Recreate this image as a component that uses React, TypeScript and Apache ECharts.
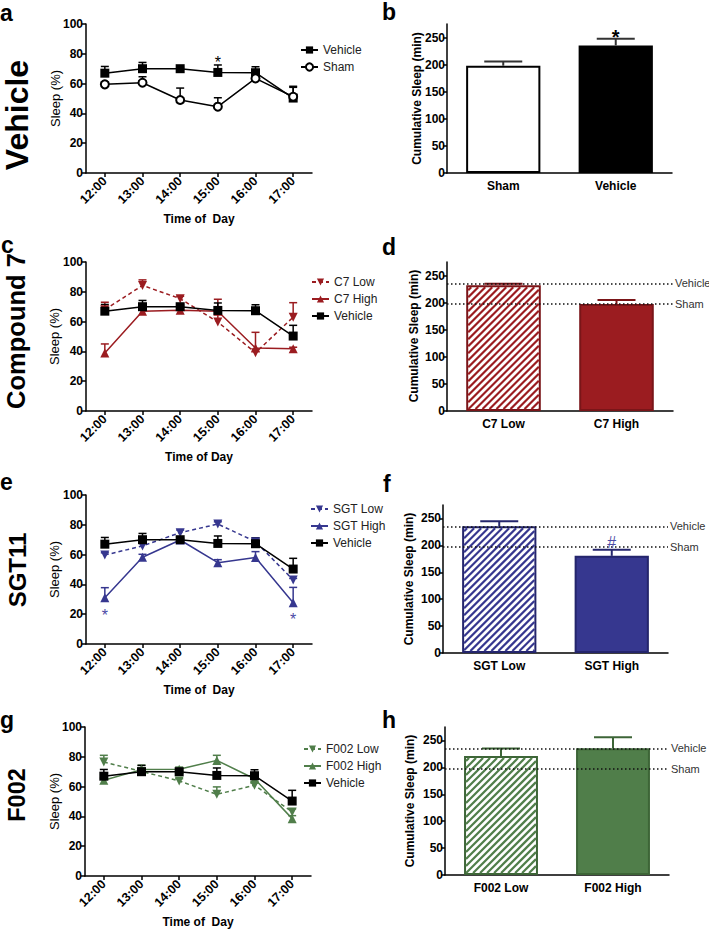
import React, { useEffect, useRef } from 'react';
import * as echarts from 'echarts';

// ---------- data ----------
const hours = ['12:00', '13:00', '14:00', '15:00', '16:00', '17:00'];
const sleepTicks = [0, 20, 40, 60, 80, 100];
const cumTicks = [0, 50, 100, 150, 200, 250];

const vehicleSleep = [67, 70, 70, 67.5, 67.3, 50.3];
const vehicleSem = [4.5, 4.2, 1, 5, 4, 7.2];
const shamSleep = [59.5, 60.6, 49, 44.5, 63.5, 51.2];
const shamSem = [1.5, 4, 8, 6, 1.5, 7];

const c7LowSleep = [68, 84.3, 75.4, 59.7, 39.1, 63];
const c7LowSem = [5, 3.7, 1.6, 8, 1, 9.7];
const c7HighSleep = [39, 67, 67.6, 67, 42.3, 41.8];
const c7HighSem = [6, 1, 1, 8, 10.5, 1];

const sgtLowSleep = [59.7, 65.8, 74.7, 80.5, 68.7, 43];
const sgtLowSem = [1.5, 3, 1.8, 1.5, 2, 1];
const sgtHighSleep = [31.1, 58.2, 69.8, 54.6, 58, 27.7];
const sgtHighSem = [6.7, 2, 1, 2, 4, 10.3];

const f002LowSleep = [76.5, 70.2, 63.8, 54.8, 60.9, 43];
const f002LowSem = [4.5, 2, 1.5, 5, 1.5, 2];
const f002HighSleep = [64.2, 71.4, 71.6, 77.6, 65.3, 38.5];
const f002HighSem = [1.5, 3, 1.5, 3.4, 1.5, 2];

const catsB = ['Sham', 'Vehicle'];
const cumB = [198, 235.5];
const cumBSem = [8, 12.5];
const catsD = ['C7 Low', 'C7 High'];
const cumD = [232, 197.5];
const cumDSem = [3, 7.5];
const catsF = ['SGT Low', 'SGT High'];
const cumF = [235.5, 180.5];
const cumFSem = [9.5, 11.5];
const catsH = ['F002 Low', 'F002 High'];
const cumH = [221, 235.5];
const cumHSem = [14, 20.5];

const refNames = ['Vehicle', 'Sham'];
const refValues = [235.5, 197.5];

// ---------- style ----------
const FONT = 'Liberation Sans, Arial, Helvetica, sans-serif';
const RED = '#9B1C20';
const RED_D = '#7A1518';
const BLUE = '#36378F';
const BLUE_D = '#24256C';
const GREEN = '#507E4A';
const GREEN_D = '#3D6537';
const STAR_BLUE = '#4B4BA6';

const grids = [
  { left: 86, top: 24, width: 226, height: 149 },
  { left: 447, top: 24, width: 225, height: 149 },
  { left: 86, top: 262, width: 226, height: 149 },
  { left: 447, top: 262, width: 226, height: 149 },
  { left: 86, top: 495, width: 226, height: 149 },
  { left: 443, top: 505, width: 225, height: 148 },
  { left: 85, top: 727, width: 226, height: 149 },
  { left: 445, top: 727, width: 224, height: 148 },
];

const axisLine = { show: true, lineStyle: { color: '#000', width: 1.5 } };

function lineX(gi: number, name: string) {
  return {
    type: 'category', gridIndex: gi, data: hours, boundaryGap: true,
    axisLine, axisTick: { show: true, alignWithLabel: true, length: 4, lineStyle: { color: '#000', width: 1.5 } },
    axisLabel: { rotate: 45, fontWeight: 'bold', fontSize: 12.5, color: '#000', margin: 6, fontFamily: FONT },
    name, nameLocation: 'middle', nameGap: 40,
    nameTextStyle: { fontWeight: 'bold', fontSize: 12, color: '#000', fontFamily: FONT },
    splitLine: { show: false },
  };
}
function lineY(gi: number) {
  return {
    type: 'value', gridIndex: gi, min: 0, max: 100, interval: 20,
    axisLine, axisTick: { show: true, length: 4, customValues: sleepTicks, lineStyle: { color: '#000', width: 1.5 } },
    axisLabel: { fontWeight: 'bold', fontSize: 12, color: '#000', margin: 3, customValues: sleepTicks, fontFamily: FONT },
    splitLine: { show: false },
  };
}
function barX(gi: number, cats: string[]) {
  return {
    type: 'category', gridIndex: gi, data: cats,
    axisLine, axisTick: { show: false },
    axisLabel: { fontWeight: 'bold', fontSize: 12, color: '#000', margin: 7, fontFamily: FONT },
    splitLine: { show: false },
  };
}
function barY(gi: number) {
  return {
    type: 'value', gridIndex: gi, min: 0, max: 275,
    axisLine,
    axisTick: { show: true, length: 4, customValues: cumTicks, lineStyle: { color: '#000', width: 1.5 } },
    axisLabel: { fontWeight: 'bold', fontSize: 12, color: '#000', margin: 2, customValues: cumTicks, fontFamily: FONT },
    splitLine: { show: false },
  };
}

function lineSeries(name: string, gi: number, values: number[], color: string, symbol: string, rotate: number, dashed: boolean, size: number, extra: any = {}) {
  return {
    type: 'line', name, xAxisIndex: gi, yAxisIndex: gi, data: values,
    symbol, symbolSize: size, symbolRotate: rotate,
    itemStyle: { color, borderColor: color, borderWidth: symbol === 'emptyCircle' ? 1.5 : 0 },
    lineStyle: { color, width: 1.5, type: dashed ? [4, 3] : 'solid' },
    z: 4, silent: true,
    ...extra,
  };
}

function errSeries(id: string, gi: number, values: number[], sem: number[], color: string, capW: number, lw: number, z: number) {
  return {
    type: 'custom', name: id, xAxisIndex: gi, yAxisIndex: gi, z, silent: true,
    encode: { x: 0, y: 1 },
    data: values.map((v, i) => [i, v, sem[i]]),
    renderItem: (params: any, api: any) => {
      const x = api.value(0), v = api.value(1), e = api.value(2);
      const p0 = api.coord([x, v]);
      const p1 = api.coord([x, v + e]);
      return {
        type: 'group', children: [
          { type: 'line', shape: { x1: p0[0], y1: p0[1], x2: p1[0], y2: p1[1] }, style: { stroke: color, lineWidth: lw } },
          { type: 'line', shape: { x1: p1[0] - capW / 2, y1: p1[1], x2: p1[0] + capW / 2, y2: p1[1] }, style: { stroke: color, lineWidth: lw } },
        ],
      };
    },
  };
}

function hatchSeries(id: string, gi: number, idx: number, value: number, color: string) {
  return {
    type: 'custom', name: id, xAxisIndex: gi, yAxisIndex: gi, z: 3, silent: true,
    encode: { x: 0, y: 1 },
    data: [[idx, value]],
    renderItem: (params: any, api: any) => {
      const i = api.value(0), v = api.value(1);
      const top = api.coord([i, v]);
      const bot = api.coord([i, 0]);
      const bw = api.size([1, 0])[0] * 0.66;
      const inset = 2;
      const x0 = top[0] - bw / 2 + inset, x1 = top[0] + bw / 2 - inset;
      const y0 = top[1] + inset, y1 = bot[1] - inset;
      const step = 7;
      const children: any[] = [];
      for (let c = x0 + y0 + 3; c < x1 + y1; c += step) {
        const xa = Math.max(x0, c - y1), xb = Math.min(x1, c - y0);
        if (xb > xa) children.push({ type: 'line', shape: { x1: xa, y1: c - xa, x2: xb, y2: c - xb }, style: { stroke: color, lineWidth: 2.2 } });
      }
      return { type: 'group', children };
    },
  };
}

function barSeries(id: string, gi: number, values: number[], fills: string[], borders: string[], extra: any = {}) {
  return {
    type: 'bar', name: id, xAxisIndex: gi, yAxisIndex: gi, barWidth: '66%', z: 2, silent: true,
    data: values.map((v, i) => ({ value: v, itemStyle: { color: fills[i], borderColor: borders[i], borderWidth: 2 } })),
    ...extra,
  };
}

function refSeries(id: string, gi: number) {
  return {
    type: 'line', name: id, xAxisIndex: gi, yAxisIndex: gi, data: [], z: 1, silent: true,
    markLine: {
      silent: true, symbol: 'none',
      lineStyle: { type: [1.5, 2.5], color: '#111', width: 1.5 },
      label: { show: true, position: 'end', formatter: '{b}', fontSize: 11, color: '#333', distance: 2, fontFamily: FONT },
      data: refNames.map((n, i) => ({ name: n, yAxis: refValues[i] })),
    },
  };
}

function starPoint(coord: [string, number], text: string, size: number, color: string, bold = false) {
  return {
    coord, symbol: 'rect', symbolSize: 1, itemStyle: { color: 'rgba(0,0,0,0)' },
    label: { show: true, position: 'inside', formatter: text, fontSize: size, color, fontWeight: bold ? 'bold' : 'normal', fontFamily: FONT },
  };
}

function legend(names: string[], left: number, top: number) {
  return {
    data: names, orient: 'vertical', left, top, itemWidth: 17, itemHeight: 9, itemGap: 3,
    selectedMode: false,
    textStyle: { fontSize: 12, color: '#222', lineHeight: 14, fontFamily: FONT },
  };
}

function vText(text: string, x: number, y: number, size: number, bold: boolean) {
  return {
    type: 'text', x, y, rotation: Math.PI / 2, silent: true,
    style: { text, fontSize: size, fontWeight: bold ? 'bold' : 'normal', fontFamily: FONT, fill: '#000', align: 'center', verticalAlign: 'middle' },
  };
}
function letter(text: string, x: number, y: number) {
  return {
    type: 'text', x, y, silent: true,
    style: { text, fontSize: 23, lineHeight: 22, fontWeight: 'bold', fontFamily: FONT, fill: '#000', align: 'left', verticalAlign: 'middle' },
  };
}

const option: any = {
  animation: false,
  textStyle: { fontFamily: FONT },
  grid: grids,
  xAxis: [
    lineX(0, 'Time of  Day'), barX(1, catsB),
    lineX(2, 'Time of Day'), barX(3, catsD),
    lineX(4, 'Time of  Day'), barX(5, catsF),
    lineX(6, 'Time of  Day'), barX(7, catsH),
  ],
  yAxis: [lineY(0), barY(1), lineY(2), barY(3), lineY(4), barY(5), lineY(6), barY(7)],
  legend: [
    legend(['Vehicle', 'Sham'], 295, 38),
    legend(['C7 Low', 'C7 High', 'Vehicle'], 306, 270),
    legend(['SGT Low', 'SGT High', 'Vehicle'], 305, 497),
    legend(['F002 Low', 'F002 High', 'Vehicle'], 298, 737),
  ],
  series: [
    // panel a
    lineSeries('Vehicle', 0, vehicleSleep, '#000', 'rect', 0, false, 9, {
      markPoint: { silent: true, data: [starPoint(['15:00', 74], '*', 16, '#000')] },
    }),
    lineSeries('Sham', 0, shamSleep, '#000', 'emptyCircle', 0, false, 8),
    errSeries('err-a-veh', 0, vehicleSleep, vehicleSem, '#000', 8, 1.5, 3),
    errSeries('err-a-sham', 0, shamSleep, shamSem, '#000', 8, 1.5, 3),
    // panel b
    barSeries('cum-b', 1, cumB, ['#fff', '#000'], ['#000', '#000'], {
      markPoint: { silent: true, data: [starPoint(['Vehicle', 251], '*', 20, '#000', true)] },
    }),
    errSeries('err-b', 1, cumB, cumBSem, '#333', 38, 2, 3),
    // panel c
    lineSeries('C7 Low', 2, c7LowSleep, RED, 'triangle', 180, true, 9),
    lineSeries('C7 High', 2, c7HighSleep, RED, 'triangle', 0, false, 9),
    lineSeries('Vehicle', 2, vehicleSleep, '#000', 'rect', 0, false, 9),
    errSeries('err-c-low', 2, c7LowSleep, c7LowSem, RED, 8, 1.5, 3),
    errSeries('err-c-high', 2, c7HighSleep, c7HighSem, RED, 8, 1.5, 3),
    errSeries('err-c-veh', 2, vehicleSleep, vehicleSem, '#000', 8, 1.5, 3),
    // panel d
    refSeries('ref-d', 3),
    barSeries('cum-d', 3, cumD, ['#fff', RED], [RED_D, RED_D]),
    hatchSeries('hatch-d', 3, 0, cumD[0], RED),
    errSeries('err-d', 3, cumD, cumDSem, RED_D, 38, 2, 4),
    // panel e
    lineSeries('SGT Low', 4, sgtLowSleep, BLUE, 'triangle', 180, true, 9),
    lineSeries('SGT High', 4, sgtHighSleep, BLUE, 'triangle', 0, false, 9, {
      markPoint: { silent: true, data: [starPoint(['12:00', 19], '*', 16, STAR_BLUE), starPoint(['17:00', 16.5], '*', 16, STAR_BLUE)] },
    }),
    lineSeries('Vehicle', 4, vehicleSleep, '#000', 'rect', 0, false, 9),
    errSeries('err-e-low', 4, sgtLowSleep, sgtLowSem, BLUE, 8, 1.5, 3),
    errSeries('err-e-high', 4, sgtHighSleep, sgtHighSem, BLUE, 8, 1.5, 3),
    errSeries('err-e-veh', 4, vehicleSleep, vehicleSem, '#000', 8, 1.5, 3),
    // panel f
    refSeries('ref-f', 5),
    barSeries('cum-f', 5, cumF, ['#fff', BLUE], [BLUE_D, BLUE_D], {
      markPoint: { silent: true, data: [starPoint(['SGT High', 206], '#', 16, STAR_BLUE)] },
    }),
    hatchSeries('hatch-f', 5, 0, cumF[0], BLUE),
    errSeries('err-f', 5, cumF, cumFSem, BLUE_D, 38, 2, 4),
    // panel g
    lineSeries('F002 Low', 6, f002LowSleep, GREEN, 'triangle', 180, true, 9),
    lineSeries('F002 High', 6, f002HighSleep, GREEN, 'triangle', 0, false, 9),
    lineSeries('Vehicle', 6, vehicleSleep, '#000', 'rect', 0, false, 9),
    errSeries('err-g-low', 6, f002LowSleep, f002LowSem, GREEN, 8, 1.5, 3),
    errSeries('err-g-high', 6, f002HighSleep, f002HighSem, GREEN, 8, 1.5, 3),
    errSeries('err-g-veh', 6, vehicleSleep, vehicleSem, '#000', 8, 1.5, 3),
    // panel h
    refSeries('ref-h', 7),
    barSeries('cum-h', 7, cumH, ['#fff', GREEN], [GREEN_D, GREEN_D]),
    hatchSeries('hatch-h', 7, 0, cumH[0], GREEN),
    errSeries('err-h', 7, cumH, cumHSem, GREEN_D, 38, 2, 4),
  ],
  graphic: [
    letter('a', 0, 12.5), letter('b', 382, 12), letter('c', 1, 245), letter('d', 382, 247),
    letter('e', 0, 482), letter('f', 383, 484), letter('g', 0, 720), letter('h', 382, 720),
    vText('Vehicle', 17, 115, 32, true),
    vText('Compound 7', 16, 331, 25.5, true),
    vText('SGT11', 17, 570, 24, true),
    vText('F002', 17, 795, 23.5, true),
    vText('Sleep (%)', 55, 98.5, 13, false),
    vText('Sleep (%)', 54, 336.5, 13, false),
    vText('Sleep (%)', 54, 569.5, 13, false),
    vText('Sleep (%)', 54, 801.5, 13, false),
    vText('Cumulative Sleep (min)', 417, 98.5, 12, true),
    vText('Cumulative Sleep (min)', 414, 336, 12, true),
    vText('Cumulative Sleep (min)', 409, 579, 12, true),
    vText('Cumulative Sleep (min)', 410, 801, 12, true),
  ],
};

export default function App() {
  const ref = useRef<HTMLDivElement>(null);
  useEffect(() => {
    const chart = echarts.init(ref.current!, null, { renderer: 'svg' });
    chart.setOption(option);
    return () => chart.dispose();
  }, []);
  return <div ref={ref} style={{ position: 'fixed', left: 0, top: 0, width: 709, height: 931, background: '#fff' }} />;
}
